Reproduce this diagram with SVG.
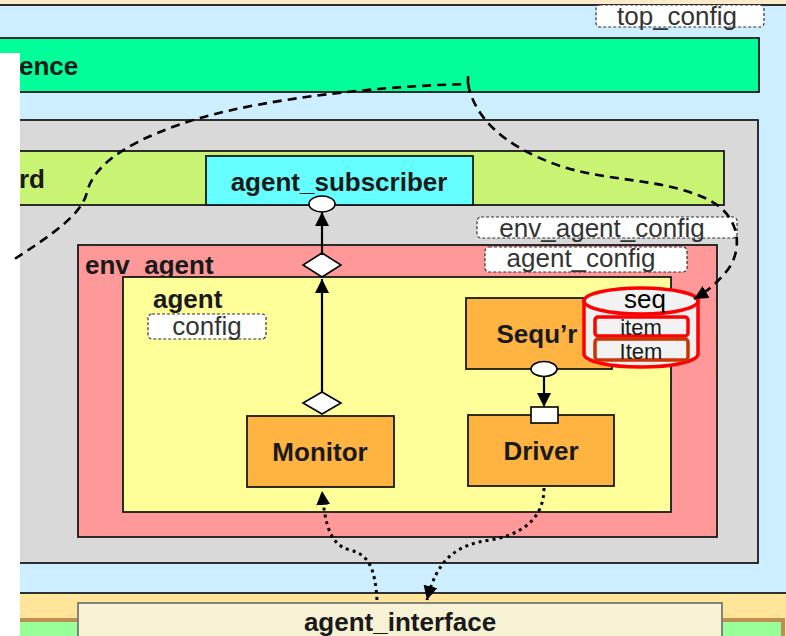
<svg xmlns="http://www.w3.org/2000/svg" width="786" height="636" viewBox="0 0 786 636">
  <style>
    .box { stroke: #1a1a1a; stroke-width: 1.8; }
    .bold { font-family: "Liberation Sans", Arial, sans-serif; font-weight: bold; font-size: 26px; fill: #1a1a1a; }
    .lbl { font-family: "Liberation Sans", Arial, sans-serif; font-size: 26px; fill: #333333; }
    .tag { fill: #ffffff; stroke: #333333; stroke-width: 1.2; stroke-dasharray: 3 2; }
    .dash { fill: none; stroke: #000000; stroke-width: 2.6; stroke-dasharray: 9 6; }
    .dot { fill: none; stroke: #000000; stroke-width: 3; stroke-dasharray: 3 4; }
    .solid { fill: none; stroke: #000000; stroke-width: 2.2; }
    .port { fill: #ffffff; stroke: #000000; stroke-width: 1.6; }
  </style>
  <defs>
    <marker id="arrow" markerUnits="userSpaceOnUse" markerWidth="16" markerHeight="16" refX="14" refY="7" orient="auto">
      <path d="M0,0 L14,7 L0,14 Z" fill="#000000" stroke="none"/>
    </marker>
  </defs>

  <!-- environment frame -->
  <g id="top">
    <rect x="0" y="0" width="786" height="5" fill="#fdeacb"/>
    <rect x="-2" y="5" width="790" height="588" fill="#cceeff" class="box"/>
  </g>

  <!-- interface strip along the bottom -->
  <g id="tb">
    <rect x="0" y="594" width="786" height="42" fill="#ffe599"/>
    <rect x="8" y="620" width="775" height="30" fill="#99ff99" stroke="#bf8f4f" stroke-width="4"/>
  </g>

  <g id="sequence">
    <rect x="-2" y="38" width="761" height="54" fill="#00ff99" class="box"/>
    <text x="19" y="75" class="bold">ence</text>
  </g>

  <g id="env">
    <rect x="-2" y="120" width="760" height="443" fill="#d9d9d9" class="box"/>
  </g>

  <g id="scoreboard">
    <rect x="-2" y="151" width="726" height="54" fill="#c8f373" class="box"/>
    <text x="19" y="188" class="bold">rd</text>
  </g>

  <g id="agent_subscriber">
    <rect x="206" y="156" width="267" height="49" fill="#66ffff" class="box"/>
    <text x="339" y="191" class="bold" text-anchor="middle">agent_subscriber</text>
  </g>

  <g id="top_config">
    <rect x="596" y="5" width="168" height="22" rx="4" class="tag"/>
    <text x="677" y="25" class="lbl" text-anchor="middle">top_config</text>
  </g>

  <g id="env_agent_config">
    <rect x="477" y="217" width="260" height="21" rx="4" class="tag"/>
    <text x="602" y="237" class="lbl" text-anchor="middle">env_agent_config</text>
  </g>

  <g id="env_agent">
    <rect x="78" y="245" width="639" height="292" fill="#ff9999" class="box"/>
    <text x="85" y="274" class="bold">env_agent</text>
  </g>

  <g id="agent_config">
    <rect x="485" y="247" width="202" height="25" rx="4" class="tag"/>
    <text x="581" y="267" class="lbl" text-anchor="middle">agent_config</text>
  </g>

  <g id="agent">
    <rect x="123" y="277" width="548" height="235" fill="#ffff99" class="box"/>
    <text x="153" y="308" class="bold">agent</text>
  </g>

  <g id="config">
    <rect x="148" y="314" width="118" height="25" rx="4" class="tag"/>
    <text x="207" y="335" class="lbl" text-anchor="middle">config</text>
  </g>

  <g id="sequencer">
    <rect x="466" y="298" width="146" height="71" fill="#ffb340" class="box"/>
    <text x="537" y="343" class="bold" text-anchor="middle">Sequ’r</text>
  </g>

  <g id="seq">
    <path d="M584 301 L584 354 A57 13 0 0 0 698 354 L698 301 Z" fill="#f0f0f0" stroke="#ff0000" stroke-width="3.5"/>
    <ellipse cx="641" cy="301" rx="57" ry="13" fill="#f2f2f2" stroke="#ff0000" stroke-width="3.5"/>
    <text x="645" y="308" class="lbl" style="fill:#000000" text-anchor="middle">seq</text>
    <rect x="595" y="317" width="93" height="19" rx="3" fill="#f2f2f2" stroke="#ff0000" stroke-width="3.5"/>
    <text x="641" y="334.5" class="lbl" style="fill:#1a1a1a;font-size:22px" text-anchor="middle">item</text>
    <rect x="595" y="339" width="93" height="21" rx="3" fill="#f2f2f2" stroke="#cc3300" stroke-width="3.5"/>
    <text x="641" y="359" class="lbl" style="fill:#1a1a1a;font-size:22px" text-anchor="middle">Item</text>
  </g>

  <g id="monitor">
    <rect x="247" y="416" width="147" height="71" fill="#ffb340" class="box"/>
    <text x="320" y="461" class="bold" text-anchor="middle">Monitor</text>
  </g>

  <g id="driver">
    <rect x="468" y="415" width="146" height="71" fill="#ffb340" class="box"/>
    <text x="541" y="460" class="bold" text-anchor="middle">Driver</text>
  </g>

  <g id="agent_interface">
    <rect x="78" y="603" width="644" height="40" fill="#f8f2d4" stroke="#777777" stroke-width="1.8"/>
    <text x="400" y="631" class="bold" text-anchor="middle">agent_interface</text>
  </g>

  <!-- left margin mask -->
  <rect x="0" y="53" width="20" height="583" fill="#ffffff"/>

  <g id="connectors">
    <!-- analysis path: monitor to subscriber -->
    <line x1="322" y1="392" x2="322" y2="279" class="solid" marker-end="url(#arrow)"/>
    <line x1="322" y1="253" x2="322" y2="212" class="solid" marker-end="url(#arrow)"/>
    <path d="M322 392 L341 403 L322 414 L303 403 Z" class="port"/>
    <path d="M322 253 L341 265 L322 277 L303 265 Z" class="port"/>
    <ellipse cx="322" cy="204" rx="13" ry="8" class="port"/>

    <!-- sequencer to driver -->
    <line x1="544" y1="377" x2="544" y2="407" class="solid" marker-end="url(#arrow)"/>
    <ellipse cx="544" cy="369" rx="13" ry="7.5" class="port"/>
    <rect x="531" y="407" width="27" height="16" class="port"/>

    <!-- configuration lookups -->
    <path d="M468 76 L468 84 C380 86 270 98 200 118 C140 136 95 160 87 192 C82 215 50 236 10 262" class="dash"/>
    <path d="M468 84 C474 115 500 145 560 166 C610 182 660 178 705 198 C745 216 742 255 725 273 C716 284 706 292 694 299" class="dash" marker-end="url(#arrow)"/>

    <!-- virtual interface handles -->
    <path d="M377 600 C375 570 370 555 350 550 C330 545 325 525 322 491" class="dot" marker-end="url(#arrow)"/>
    <path d="M544 488 C544 520 520 535 490 540 C455 545 437 560 427 600" class="dot" marker-end="url(#arrow)"/>
  </g>
</svg>
